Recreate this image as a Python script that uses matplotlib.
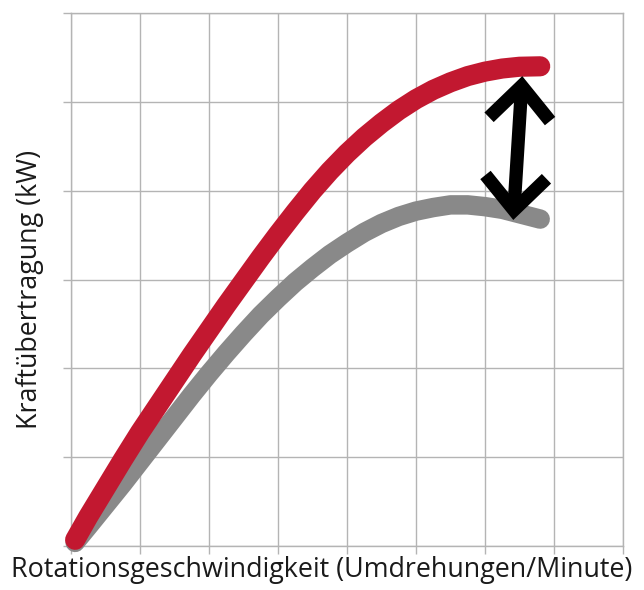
import matplotlib
matplotlib.use('Agg')
import matplotlib.pyplot as plt

# Kraftübertragung vs. Drehzahl
red_x = [0.06, 0.25, 0.5, 0.75, 1.0, 1.25, 1.5, 1.75, 2.0, 2.25, 2.5, 2.75,
         3.0, 3.25, 3.5, 3.75, 4.0, 4.25, 4.5, 4.75, 5.0, 5.25, 5.5, 5.75,
         6.0, 6.25, 6.5, 6.8]
red_y = [0.07, 0.33, 0.65, 0.97, 1.28, 1.57, 1.86, 2.15, 2.43, 2.71, 2.98, 3.25,
         3.51, 3.76, 4.0, 4.22, 4.42, 4.6, 4.76, 4.905, 5.03, 5.135, 5.22, 5.29,
         5.34, 5.375, 5.395, 5.4]

grey_x = [0.06, 0.25, 0.5, 0.75, 1.0, 1.25, 1.5, 1.75, 2.0, 2.25, 2.5, 2.75,
          3.0, 3.25, 3.5, 3.75, 4.0, 4.25, 4.5, 4.75, 5.0, 5.25, 5.5, 5.75,
          6.0, 6.25, 6.5, 6.8]
grey_y = [0.04, 0.22, 0.46, 0.7, 0.95, 1.2, 1.45, 1.7, 1.94, 2.17, 2.39, 2.6,
          2.79, 2.97, 3.13, 3.28, 3.41, 3.53, 3.63, 3.71, 3.77, 3.81, 3.84, 3.84,
          3.82, 3.79, 3.74, 3.68]

# double arrow between the two curves near the right end
arrow_top = (6.54, 5.29)
arrow_bottom = (6.41, 3.67)

x_ticks = list(range(0, 9))
y_ticks = list(range(0, 7))

grid_col = '#b4b4b4'
red = '#c21830'
grey = '#898989'

plt.rcParams['font.family'] = ['Open Sans', 'DejaVu Sans']

fig = plt.figure(figsize=(6.44, 5.9), dpi=100)
ax = fig.add_axes([71/644, 44/590, 552/644, 533/590])

ax.set_xlim(0, 8)
ax.set_ylim(0, 6)
ax.set_xticks(x_ticks)
ax.set_yticks(y_ticks)
ax.set_xticklabels([])
ax.set_yticklabels([])
ax.tick_params(length=6, width=1.0, color=grid_col)
ax.grid(color=grid_col, linewidth=1.0)
for s in ax.spines.values():
    s.set_color(grid_col)
    s.set_linewidth(1.0)

ax.plot(grey_x, grey_y, color=grey, linewidth=14, solid_capstyle='round',
        solid_joinstyle='round', clip_on=False, zorder=3)
ax.plot(red_x, red_y, color=red, linewidth=14.5, solid_capstyle='round',
        solid_joinstyle='round', clip_on=False, zorder=4)

ax.annotate('', xy=arrow_top, xytext=arrow_bottom,
            arrowprops=dict(arrowstyle='<->,head_length=2.4,head_width=2.2',
                            color='black', linewidth=9.6, mutation_scale=10,
                            shrinkA=0, shrinkB=0, joinstyle='miter',
                            capstyle='butt'),
            zorder=5)

fig.text(0.5, 6/590, 'Rotationsgeschwindigkeit (Umdrehungen/Minute)',
         ha='center', va='bottom', fontsize=19.4, color='#1a1a1a')
fig.text(30/644, 1 - 289/590, 'Kraftübertragung (kW)', rotation=90,
         ha='center', va='center', fontsize=19.4, color='#1a1a1a')

fig.savefig('out.png', dpi=100)
